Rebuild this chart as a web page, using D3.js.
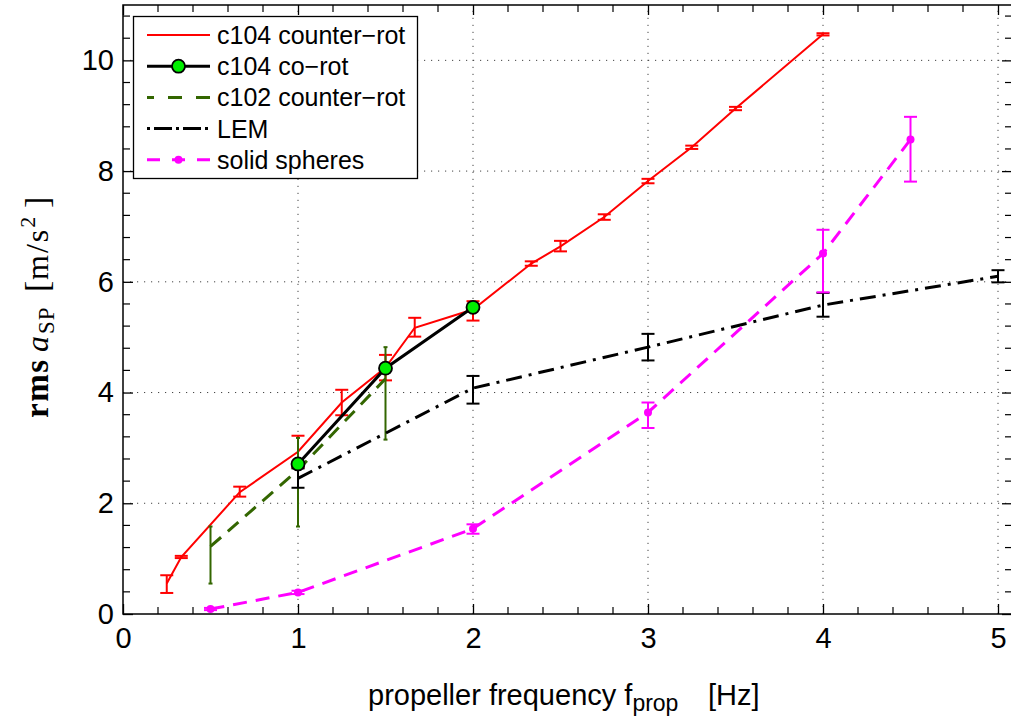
<!DOCTYPE html>
<html><head><meta charset="utf-8">
<script src="https://cdn.jsdelivr.net/npm/d3@7"></script>
<style>body{margin:0;background:#fff}svg{display:block}</style>
</head><body>
<script>
// ---------- data ----------
const redX   = [0.25, 0.333, 0.667, 1.0, 1.25, 1.5, 1.667, 2.0, 2.333, 2.5, 2.75, 3.0, 3.25, 3.5, 4.0];
const redY   = [0.55, 1.03, 2.20, 2.93, 3.82, 4.45, 5.17, 5.50, 6.33, 6.64, 7.17, 7.82, 8.43, 9.13, 10.47];
const redLo  = [0.38, 1.01, 2.12, 2.64, 3.59, 4.22, 5.01, 5.30, 6.29, 6.55, 7.12, 7.78, 8.40, 9.10, 10.45];
const redHi  = [0.70, 1.05, 2.30, 3.22, 4.05, 4.68, 5.35, 5.65, 6.37, 6.74, 7.22, 7.86, 8.46, 9.16, 10.49];

const coX = [1.0, 1.5, 2.0];
const coY = [2.71, 4.44, 5.54];

const c102X  = [0.5, 1.0, 1.5];
const c102Y  = [1.22, 2.60, 4.25];
const c102Lo = [0.55, 1.58, 3.15];
const c102Hi = [1.58, 3.18, 4.82];

const lemX  = [1, 2, 3, 4, 5];
const lemY  = [2.45, 4.08, 4.82, 5.58, 6.10];
const lemLo = [2.28, 3.80, 4.58, 5.37, 5.99];
const lemHi = [2.63, 4.30, 5.06, 5.80, 6.21];

const solX  = [0.5, 1, 2, 3, 4, 4.5];
const solY  = [0.09, 0.39, 1.54, 3.64, 6.51, 8.57];
const solLo = [0.07, 0.36, 1.45, 3.36, 5.81, 7.81];
const solHi = [0.11, 0.42, 1.62, 3.82, 6.94, 8.98];

const xTicks = [0, 1, 2, 3, 4, 5];
const yTicks = [0, 2, 4, 6, 8, 10];
const legendLabels = ["c104 counter\u2212rot", "c104 co\u2212rot", "c102 counter\u2212rot", "LEM", "solid spheres"];

// ---------- setup ----------
const W = 1011, H = 716;
const L = 123, T = 5, B = 614;
const x = d3.scaleLinear([0, 5.08], [L, L + 5.08 * 175]);
const y = d3.scaleLinear([0, 11], [B, T]);
const R = x(5.08);
const sans = "'Liberation Sans', Arial, Helvetica, sans-serif";

const svg = d3.select("body").append("svg").attr("width", W).attr("height", H)
  .style("font-family", sans);

// grid
const grid = svg.append("g").attr("stroke", "#444").attr("stroke-width", 1).attr("stroke-dasharray", "1.2,5.8");
grid.selectAll(".gx").data(xTicks.filter(d => d > 0)).join("line")
  .attr("x1", d => x(d)).attr("x2", d => x(d)).attr("y1", B).attr("y2", T);
grid.selectAll(".gy").data(yTicks.filter(d => d > 0)).join("line")
  .attr("y1", d => y(d)).attr("y2", d => y(d)).attr("x1", L).attr("x2", R);

// axes
const fs = 29;
const ax = svg.append("g").attr("transform", `translate(0,${B})`)
  .call(d3.axisBottom(x).tickValues(xTicks).tickSize(-10).tickPadding(13).tickFormat(d3.format("d")));
const ay = svg.append("g").attr("transform", `translate(${L},0)`)
  .call(d3.axisLeft(y).tickValues(yTicks).tickSize(-10).tickPadding(9).tickFormat(d3.format("d")));
const at = svg.append("g").attr("transform", `translate(0,${T})`)
  .call(d3.axisTop(x).tickValues(xTicks).tickSize(-10).tickFormat(""));
const ar = svg.append("g").attr("transform", `translate(${R},0)`)
  .call(d3.axisRight(y).tickValues(yTicks).tickSize(-10).tickFormat(""));
[ax, ay, at, ar].forEach(g => {
  g.select(".domain").remove();
  g.selectAll("line").attr("stroke", "#000").attr("stroke-width", 1.3);
  g.selectAll("text").attr("font-size", fs).attr("fill", "#000").attr("font-family", sans);
});

// minor ticks
const mx = d3.range(0.2, 5.08, 0.2).filter(v => Math.abs(v - Math.round(v)) > 1e-6);
const my = d3.range(0.4, 11, 0.4).filter(v => Math.abs(v / 2 - Math.round(v / 2)) > 1e-6);
const minor = svg.append("g").attr("stroke", "#000").attr("stroke-width", 1.2);
mx.forEach(v => {
  minor.append("line").attr("x1", x(v)).attr("x2", x(v)).attr("y1", B).attr("y2", B - 7);
  minor.append("line").attr("x1", x(v)).attr("x2", x(v)).attr("y1", T).attr("y2", T + 7);
});
my.forEach(v => {
  minor.append("line").attr("y1", y(v)).attr("y2", y(v)).attr("x1", L).attr("x2", L + 7);
  minor.append("line").attr("y1", y(v)).attr("y2", y(v)).attr("x1", R).attr("x2", R - 7);
});

// box
svg.append("rect").attr("x", L).attr("y", T).attr("width", R - L).attr("height", B - T)
  .attr("fill", "none").attr("stroke", "#000").attr("stroke-width", 1.5);

// ---------- series ----------
const plot = svg.append("g");
function lineOf(xs, ys) { return d3.line().x((d, i) => x(xs[i])).y(d => y(d))(ys); }
function errBars(xs, lo, hi, color, w, cap) {
  const g = plot.append("g").attr("stroke", color).attr("stroke-width", w).attr("fill", "none");
  xs.forEach((xv, i) => {
    g.append("line").attr("x1", x(xv)).attr("x2", x(xv)).attr("y1", y(lo[i])).attr("y2", y(hi[i]));
    if (cap > 0) {
      g.append("line").attr("x1", x(xv) - cap).attr("x2", x(xv) + cap).attr("y1", y(lo[i])).attr("y2", y(lo[i]));
      g.append("line").attr("x1", x(xv) - cap).attr("x2", x(xv) + cap).attr("y1", y(hi[i])).attr("y2", y(hi[i]));
    }
  });
}

const red = "#ff0000", green = "#336600", mag = "#ff00ff", lime = "#00ee00";
const styles = [
  {color: red, w: 2, dash: null},
  {color: "#000", w: 3, dash: null, marker: "circle"},
  {color: green, w: 3, dash: "14,14", off: 7},
  {color: "#000", w: 3, dash: "3,4,18,4,3,4,18,4,3", off: 0},
  {color: mag, w: 3, dash: "13,12", off: 0, marker: "dot"}
];

// red
plot.append("path").attr("d", lineOf(redX, redY)).attr("fill", "none").attr("stroke", red).attr("stroke-width", 2);
errBars(redX, redLo, redHi, red, 2, 6.5);
// co-rot
plot.append("path").attr("d", lineOf(coX, coY)).attr("fill", "none").attr("stroke", "#000").attr("stroke-width", 3);
// c102
plot.append("path").attr("d", lineOf(c102X, c102Y)).attr("fill", "none").attr("stroke", green).attr("stroke-width", 3).attr("stroke-dasharray", "14,9");
errBars(c102X, c102Lo, c102Hi, green, 2, 2);
// LEM
plot.append("path").attr("d", lineOf(lemX, lemY)).attr("fill", "none").attr("stroke", "#000").attr("stroke-width", 3).attr("stroke-dasharray", "16,7,3,7");
errBars(lemX, lemLo, lemHi, "#000", 2, 6.5);
// solid spheres
plot.append("path").attr("d", lineOf(solX, solY)).attr("fill", "none").attr("stroke", mag).attr("stroke-width", 3).attr("stroke-dasharray", "14,9");
errBars(solX, solLo, solHi, mag, 2, 6.5);
plot.selectAll(".sd").data(solY).join("circle").attr("cx", (d, i) => x(solX[i])).attr("cy", d => y(d)).attr("r", 4).attr("fill", mag);
// co-rot markers
plot.selectAll(".co").data(coY).join("circle").attr("cx", (d, i) => x(coX[i])).attr("cy", d => y(d)).attr("r", 6.5)
  .attr("fill", lime).attr("stroke", "#000").attr("stroke-width", 1.8);

// ---------- legend ----------
const lg = svg.append("g");
lg.append("rect").attr("x", 133.5).attr("y", 16.5).attr("width", 284).attr("height", 162)
  .attr("fill", "#fff").attr("stroke", "#000").attr("stroke-width", 1.3);
const rowY = i => 35 + i * 31.2;
legendLabels.forEach((lab, i) => {
  const s = styles[i];
  const ly = rowY(i);
  const ln = lg.append("line").attr("x1", 147).attr("x2", 210).attr("y1", ly).attr("y2", ly)
    .attr("stroke", s.color).attr("stroke-width", s.w);
  if (s.dash) ln.attr("stroke-dasharray", s.dash).attr("stroke-dashoffset", s.off);
  if (s.marker === "circle") lg.append("circle").attr("cx", 178.5).attr("cy", ly).attr("r", 6.5).attr("fill", lime).attr("stroke", "#000").attr("stroke-width", 1.8);
  if (s.marker === "dot") lg.append("circle").attr("cx", 178.5).attr("cy", ly).attr("r", 4).attr("fill", mag);
  lg.append("text").attr("x", 217).attr("y", ly).attr("dy", "0.36em").attr("font-size", 25).text(lab);
});

// ---------- axis labels ----------
const xl = svg.append("text").attr("x", 368).attr("y", 705).attr("font-size", 29);
xl.append("tspan").text("propeller frequency f");
xl.append("tspan").attr("font-size", 23).attr("dy", 6).text("prop");
xl.append("tspan").attr("dy", -6).attr("x", 708).text("[Hz]");

const serif = "'Liberation Serif', 'DejaVu Serif', serif";
const yl = svg.append("text").attr("transform", "translate(48,0) rotate(-90)")
  .attr("font-family", serif).attr("font-size", 32);
yl.append("tspan").attr("x", -418).attr("font-weight", "bold").attr("font-size", 33).attr("letter-spacing", 1.5).text("rms");
yl.append("tspan").attr("x", -352).attr("font-style", "italic").text("a");
yl.append("tspan").attr("x", -334).attr("font-size", 23).attr("dy", 6).attr("letter-spacing", 1).text("SP");
yl.append("tspan").attr("x", -292).attr("dy", -6).attr("font-size", 34).text("[");
yl.append("tspan").attr("x", -280).attr("letter-spacing", 2).text("m/s");
yl.append("tspan").attr("font-size", 22).attr("dy", -13).text("2");
yl.append("tspan").attr("x", -208).attr("dy", 13).attr("font-size", 34).text("]");
</script>
</body></html>
